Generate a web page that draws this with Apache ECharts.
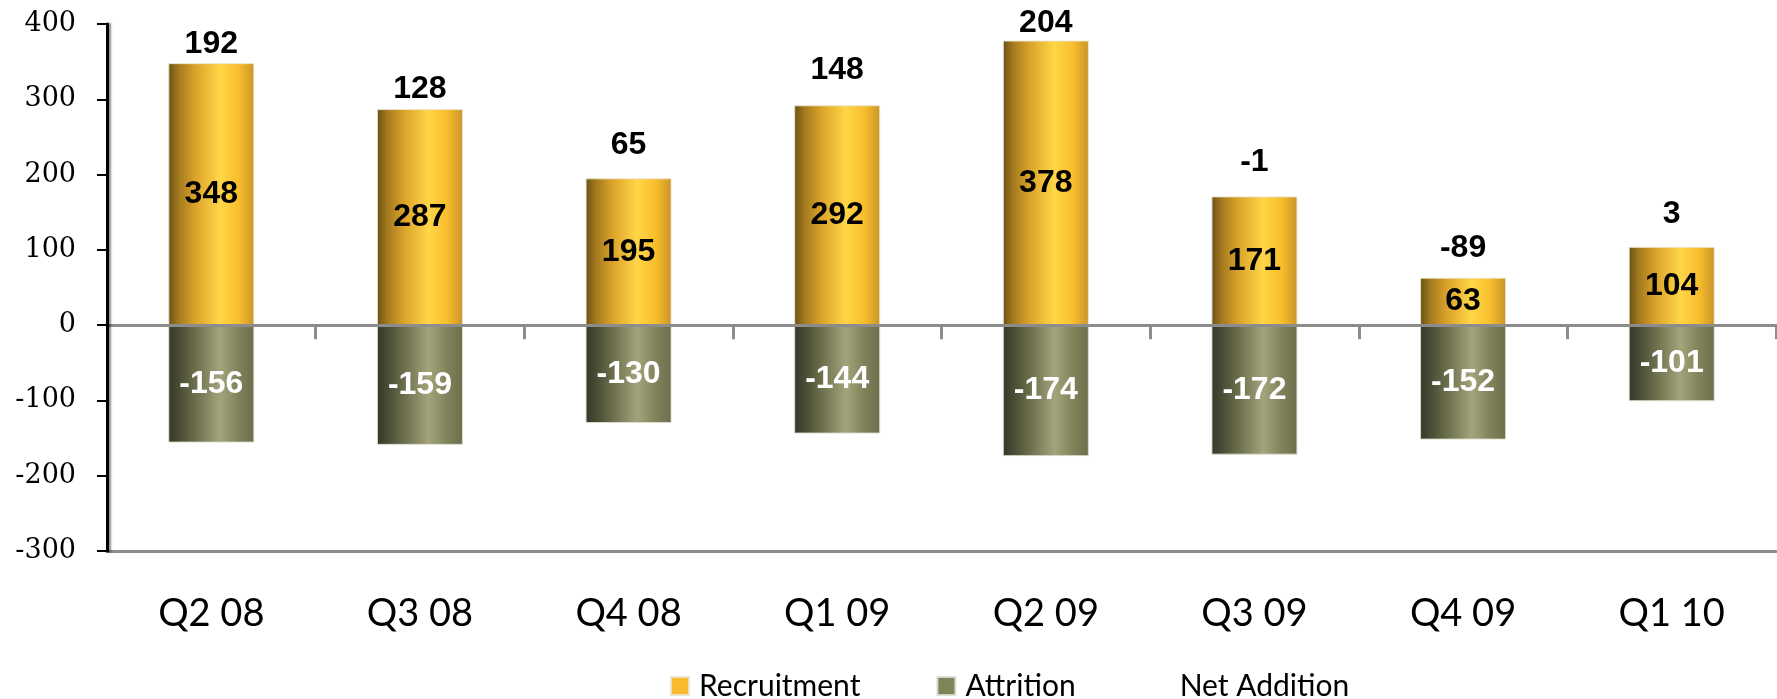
<!DOCTYPE html>
<html>
<head>
<meta charset="utf-8">
<script src="https://cdn.jsdelivr.net/npm/echarts@6/dist/echarts.min.js"></script>
<style>
  html, body { margin: 0; padding: 0; background: #ffffff; }
  #chart { width: 1777px; height: 699px; }
</style>
</head>
<body>
<div id="chart"></div>
<script>
// Quarterly headcount movement
const quarters = ['Q2 08', 'Q3 08', 'Q4 08', 'Q1 09', 'Q2 09', 'Q3 09', 'Q4 09', 'Q1 10'];
const recruitment = [348, 287, 195, 292, 378, 171, 63, 104];
const attrition = [-156, -159, -130, -144, -174, -172, -152, -101];
const netAddition = [192, 128, 65, 148, 204, -1, -89, 3];

// Axis range
const yMin = -300;
const yMax = 400;
const yStep = 100;

// Distance (px) of each net label above its recruitment bar
const netLabelLift = [19, 20, 33, 35, 17, 34, 30, 33];

const numberFont = '"Liberation Sans", Arial, sans-serif';
const textFont = 'Lato, "Open Sans", sans-serif';
const serifFont = '"DejaVu Serif", "Liberation Serif", serif';

function barGradient(stops) {
  return new echarts.graphic.LinearGradient(0, 0, 1, 0,
    stops.map(function (s) { return { offset: s[0], color: s[1] }; }));
}

const goldFill = barGradient([
  [0, '#6a5016'], [0.12, '#a47a1f'], [0.32, '#dca42a'],
  [0.6, '#ffd648'], [0.82, '#f8bd2c'], [1, '#c8942a']
]);
const oliveFill = barGradient([
  [0, '#35372a'], [0.14, '#4c4e36'], [0.34, '#707350'],
  [0.6, '#a3a47c'], [0.82, '#7f8259'], [1, '#6b6e4c']
]);

const chart = echarts.init(document.getElementById('chart'), null, { renderer: 'canvas' });

chart.setOption({
  animation: false,
  backgroundColor: '#ffffff',
  grid: { left: 107, right: 1, top: 24, bottom: 148 },
  legend: {
    left: 670,
    top: 668,
    padding: 0,
    itemWidth: 18,
    itemHeight: 18,
    itemGap: 76,
    textStyle: { fontFamily: textFont, fontSize: 30, lineHeight: 36, color: '#000', padding: [0, 0, 0, 5] },
    data: [
      { name: 'Recruitment', icon: 'rect', itemStyle: { color: '#f8bb2e' } },
      { name: 'Attrition', icon: 'rect', itemStyle: { color: '#80845a' } },
      { name: 'Net Addition', icon: 'rect', itemStyle: { color: 'rgba(0,0,0,0)', opacity: 0 } }
    ]
  },
  xAxis: [
    {
      type: 'category',
      data: quarters,
      position: 'bottom',
      axisLine: { onZero: true, lineStyle: { color: '#8c8c8c', width: 3 } },
      axisTick: { show: true, length: 14, lineStyle: { color: '#8c8c8c', width: 3 } },
      axisLabel: { show: false },
      splitLine: { show: false },
      z: 3
    },
    {
      type: 'category',
      data: quarters,
      position: 'bottom',
      axisLine: { onZero: false, lineStyle: { color: '#8c8c8c', width: 3 } },
      axisTick: { show: false },
      axisLabel: {
        show: true,
        margin: 44,
        fontFamily: textFont,
        fontSize: 38,
        color: '#000'
      },
      splitLine: { show: false }
    }
  ],
  yAxis: {
    type: 'value',
    min: yMin,
    max: yMax,
    interval: yStep,
    axisLine: {
      show: true,
      lineStyle: { color: '#000', width: 3, shadowColor: 'rgba(0,0,0,0.45)', shadowBlur: 2, shadowOffsetX: 2 }
    },
    axisTick: { show: true, inside: false, length: 10, lineStyle: { color: '#000', width: 2 } },
    axisLabel: { margin: 31, fontFamily: serifFont, fontSize: 27, color: '#000' },
    splitLine: { show: false },
    z: 4
  },
  series: [
    {
      name: 'Recruitment',
      type: 'bar',
      data: recruitment,
      barWidth: 86,
      barGap: '-100%',
      itemStyle: {
        color: goldFill,
        borderColor: 'rgba(235,228,205,0.9)',
        borderWidth: 1
      },
      label: {
        show: true,
        position: 'inside',
        fontFamily: numberFont,
        fontWeight: 'bold',
        fontSize: 32,
        color: '#000'
      }
    },
    {
      name: 'Attrition',
      type: 'bar',
      data: attrition,
      barWidth: 86,
      barGap: '-100%',
      itemStyle: {
        color: oliveFill,
        borderColor: 'rgba(220,222,205,0.9)',
        borderWidth: 1
      },
      label: {
        show: true,
        position: 'inside',
        fontFamily: numberFont,
        fontWeight: 'bold',
        fontSize: 32,
        color: '#fff'
      }
    },
    {
      name: 'Net Addition',
      type: 'custom',
      data: netAddition.map(function (v, i) { return [i, v, recruitment[i]]; }),
      encode: { x: 0, y: 1 },
      z: 5,
      renderItem: function (params, api) {
        const i = api.value(0);
        const top = api.coord([i, api.value(2)]);
        return {
          type: 'text',
          x: top[0],
          y: top[1] - netLabelLift[i],
          style: {
            text: String(api.value(1)),
            fill: '#000',
            fontFamily: numberFont,
            fontWeight: 'bold',
            fontSize: 32,
            align: 'center',
            verticalAlign: 'middle'
          }
        };
      }
    }
  ]
});
</script>
</body>
</html>
